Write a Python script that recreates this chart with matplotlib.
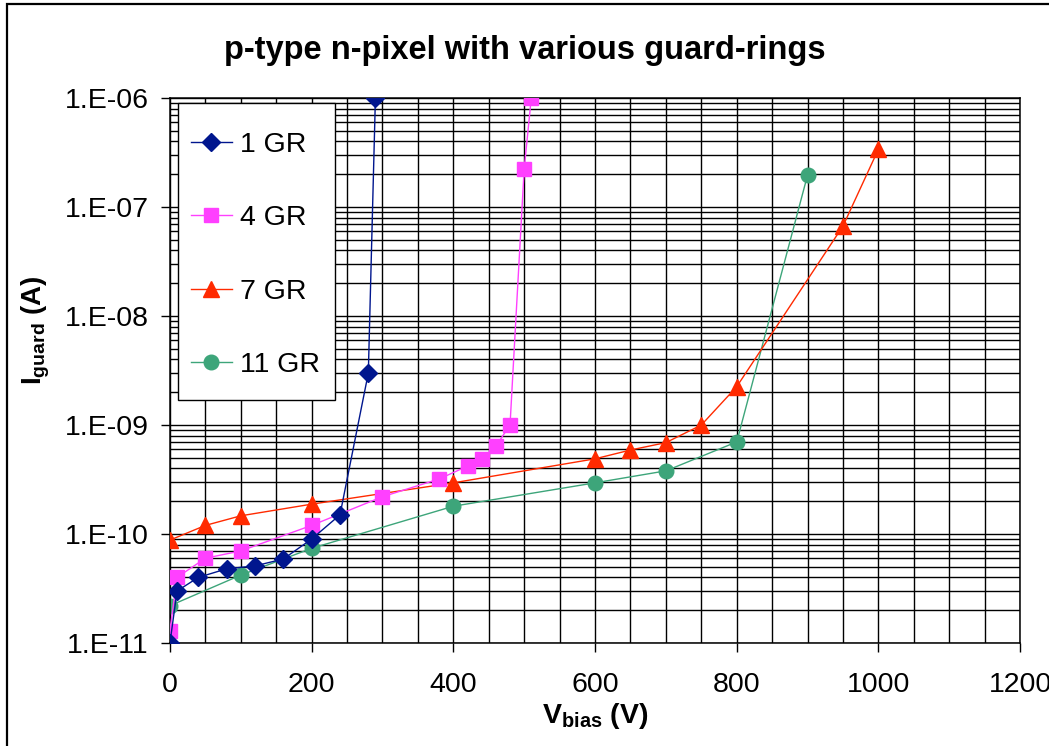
import matplotlib.pyplot as plt
from matplotlib.patches import Rectangle
from matplotlib.ticker import FixedLocator, LogLocator, NullFormatter

# data
v_1gr = [0, 10, 40, 80, 120, 160, 200, 240, 280, 290]
i_1gr = [1.0e-11, 3.0e-11, 4.0e-11, 4.8e-11, 5.1e-11, 5.9e-11, 9.0e-11, 1.5e-10, 3.0e-9, 1.0e-6]

v_4gr = [0, 10, 50, 100, 200, 300, 380, 420, 440, 460, 480, 500, 510]
i_4gr = [1.3e-11, 4.0e-11, 6.0e-11, 7.0e-11, 1.2e-10, 2.2e-10, 3.2e-10, 4.2e-10,
         4.9e-10, 6.4e-10, 1.0e-9, 2.25e-7, 1.0e-6]

v_7gr = [0, 50, 100, 200, 400, 600, 650, 700, 750, 800, 950, 1000]
i_7gr = [8.8e-11, 1.2e-10, 1.47e-10, 1.88e-10, 2.95e-10, 4.9e-10, 5.9e-10,
         6.9e-10, 1.0e-9, 2.25e-9, 6.7e-8, 3.4e-7]

v_11gr = [0, 100, 200, 400, 600, 700, 800, 900]
i_11gr = [2.2e-11, 4.2e-11, 7.4e-11, 1.8e-10, 2.95e-10, 3.8e-10, 7.0e-10, 1.97e-7]

y_ticks = [1e-11, 1e-10, 1e-9, 1e-8, 1e-7, 1e-6]
y_labels = ["1.E-11", "1.E-10", "1.E-09", "1.E-08", "1.E-07", "1.E-06"]

plt.rcParams['font.family'] = ['Liberation Sans', 'DejaVu Sans']

fig = plt.figure(figsize=(10.49, 7.46), dpi=100)
ax = fig.add_axes([0.162, 0.138, 0.8105, 0.7306])

# outer chart border (cropped on right / bottom in the reference)
fig.patches.append(Rectangle((0.0067, -0.05), 1.2, 1.045, transform=fig.transFigure,
                             fill=False, edgecolor='black', linewidth=1.6))

ax.plot(v_1gr, i_1gr, color='#00168E', marker='D', markersize=9, linewidth=1,
        label='1 GR', zorder=5)
ax.plot(v_4gr, i_4gr, color='#FF40FF', marker='s', markersize=9.5, linewidth=1,
        label='4 GR', zorder=4)
ax.plot(v_7gr, i_7gr, color='#FF2A00', marker='^', markersize=11.5, linewidth=1,
        label='7 GR', zorder=3)
ax.plot(v_11gr, i_11gr, color='#3DA57A', marker='o', markersize=10.5, linewidth=1,
        label='11 GR', zorder=2)

ax.set_yscale('log')
ax.set_xlim(0, 1200)
ax.set_ylim(1e-11, 1e-6)

ax.xaxis.set_major_locator(FixedLocator(range(0, 1201, 200)))
ax.xaxis.set_minor_locator(FixedLocator(range(0, 1201, 50)))
ax.yaxis.set_major_locator(FixedLocator(y_ticks))
ax.set_yticklabels(y_labels)
ax.yaxis.set_minor_locator(LogLocator(base=10, subs=range(2, 10)))
ax.yaxis.set_minor_formatter(NullFormatter())

ax.grid(True, which='both', color='black', linewidth=1.0)
ax.set_axisbelow(True)
ax.tick_params(which='major', direction='out', length=6.5, width=1, labelsize=20.5)
ax.tick_params(which='minor', length=0)
ax.tick_params(axis='x', pad=14)
ax.tick_params(axis='y', pad=9)

for s in ax.spines.values():
    s.set_linewidth(1.1)

fig.text(0.5, 1 - 50 / 746, 'p-type n-pixel with various guard-rings', fontsize=23.5,
         fontweight='bold', ha='center', va='center')
ax.set_xlabel(r'V$_{\mathregular{bias}}$ (V)', fontsize=20.5, fontweight='bold')
ax.set_ylabel(r'I$_{\mathregular{guard}}$ (A)', fontsize=20, fontweight='bold')
ax.xaxis.set_label_coords(0.5, -0.106)
ax.yaxis.set_label_coords(-0.139, 0.574)

# legend box drawn separately so the padding can differ per side
ax.add_patch(Rectangle((0.0094, 0.4459), 0.1847, 0.545, transform=ax.transAxes,
                       facecolor='white', edgecolor='black', linewidth=1, zorder=6))
leg = ax.legend(loc='upper left', bbox_to_anchor=(0.0247, 0.9375), fontsize=20.5,
                labelspacing=1.66, handlelength=1.44, handletextpad=0.28,
                borderpad=0, borderaxespad=0, frameon=False)
leg.set_zorder(7)

fig.savefig('out.png', dpi=100)
